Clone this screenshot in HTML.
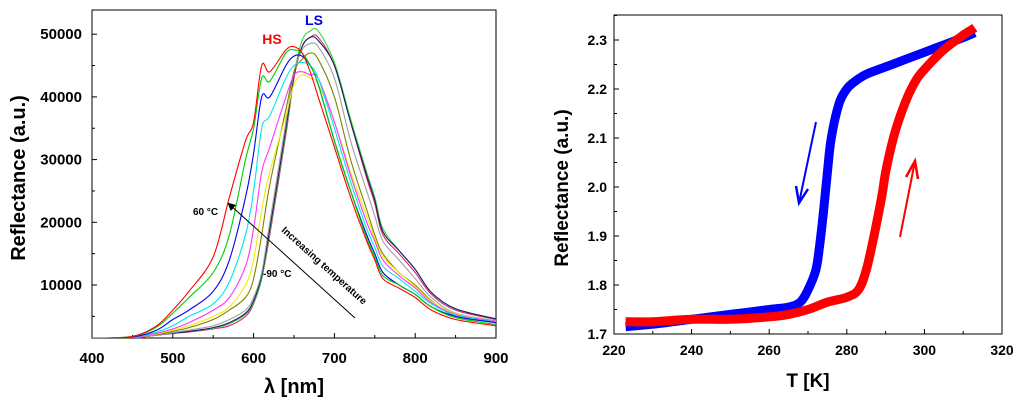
<!DOCTYPE html>
<html><head><meta charset="utf-8"><style>
body{margin:0;background:#fff;}
svg{display:block;font-family:"Liberation Sans",Arial,sans-serif;font-weight:bold;}
</style></head><body>
<svg id="s" width="1024" height="409" viewBox="0 0 1024 409">
<defs>
<marker id="ah" markerWidth="8" markerHeight="8" refX="6" refY="4" orient="auto"><path d="M0,0 L8,4 L0,8 z" fill="#000"/></marker>
</defs>
<g id="L"></g>
<g id="R"></g>
</svg>
<script>
// ---- Left chart data (reflectance in thousands) ----
const wl = [400,450,480,500,520,550,570,590,600,610,620,640,650,660,670,680,700,720,740,750,760,780,800,820,850,900];
const specRed     = [1.5,1.8,3.5,6,9,14.5,24,33,36,45,44,47.5,48,47,44,40,32,24,17,14,11,9.5,8,6,4.5,3.5];
const specGreen   = [1.5,1.8,3.3,5.5,8,12,18,30,35,43,42.5,47,47.5,47,45,42,33,25,17.5,14.5,11.5,10,8.5,6.5,4.8,3.7];
const specBlue    = [1.5,1.7,2.8,4.5,6,9,14,24,31,40,40,45,46.5,46.5,45,42,33,25,18,15,12,10,8.5,6.5,5,4];
const specCyan    = [1.5,1.7,2.5,3.5,5,7,10.5,18,25,35,37,43,45,45.5,45,43,35,26.5,19,16,13,11,9,7,5.2,4.1];
const specMagenta = [1.5,1.6,2.3,3,4,6,8,13,19,28,32,40,43.5,44,43.5,43,36,27.5,20,17,14,11.5,9.5,7.2,5.3,4.2];
const specYellow  = [1.5,1.6,2.2,2.8,3.5,5,6.5,10,14,22,28,37,42,43.5,43,42,36,28,21,17.5,14.5,12,9.8,7.4,5.4,4.2];
const specOlive   = [1.5,1.6,2.1,2.6,3.2,4.5,6,8,11,18,26,38,44,46,47,46,40,30,22,18,15,12,10,7.5,5,4];
const specGray    = [1.5,1.6,2,2.4,2.8,3.5,4.5,6,8,12,20,36,44,47.5,48.5,48,43,33,25,21,17,14,11,8,5.5,4.3];
const specNavy    = [1.5,1.6,2,2.3,2.6,3.2,4,5.5,7.5,11.5,19,35,43.5,48,49.5,49,45,36,27.5,23.5,18.5,15.5,12.5,8.8,6.2,4.6];
const specLime    = [1.5,1.6,2,2.3,2.6,3.1,3.8,5.3,7.2,11,18.5,34.5,43.5,49,50.5,50.5,45.5,36.5,28,24,19,15.5,12.5,8.8,6.2,4.6];
const specPink    = [1.5,1.6,2,2.3,2.5,3,3.5,5,7,11,18,34,43,48,49.5,49.5,45,36,27,23,18,15,12,8.5,6,4.5];
const specColors = ["#ff0000","#00cc00","#0000ee","#00e5ee","#ff33ff","#eeee00","#808000","#a0a0a0","#1a1a6e","#33dd33","#e0207a"];
const specSeries = [specRed,specGreen,specBlue,specCyan,specMagenta,specYellow,specOlive,specGray,specNavy,specLime,specPink];
const specNames = ["60C","t2","t3","t4","t5","t6","t7","t8","t9","t10","-90C"];
const lxTicks = [400,500,600,700,800,900];
const lyTicks = [10000,20000,30000,40000,50000];

// ---- Right chart data ----
const coolT = [313,310,305,300,295,290,285,282,280,278,276,275,274,273,272,270,268,265,260,250,240,230,223];
const coolR = [2.315,2.305,2.29,2.275,2.26,2.245,2.23,2.215,2.2,2.17,2.1,2.03,1.95,1.88,1.83,1.79,1.765,1.755,1.75,1.74,1.73,1.72,1.715];
const heatT = [223,230,240,250,260,265,270,275,280,283,285,287,289,290,292,294,296,298,300,305,310,313];
const heatR = [1.725,1.725,1.73,1.73,1.735,1.74,1.75,1.765,1.775,1.79,1.83,1.9,1.98,2.03,2.1,2.15,2.19,2.22,2.24,2.28,2.31,2.325];
const rxTicks = [220,240,260,280,300,320];
const ryTicks = [1.7,1.8,1.9,2.0,2.1,2.2,2.3];

const NS="http://www.w3.org/2000/svg";
function mk(p,tag,at,txt){const e=document.createElementNS(NS,tag);for(const k in at)e.setAttribute(k,at[k]);if(txt!==undefined)e.textContent=txt;p.appendChild(e);return e;}
function smooth(P){let d='M'+P[0][0].toFixed(1)+','+P[0][1].toFixed(1);
  for(let i=0;i<P.length-1;i++){const p0=P[Math.max(i-1,0)],p1=P[i],p2=P[i+1],p3=P[Math.min(i+2,P.length-1)];
    const c1=[p1[0]+(p2[0]-p0[0])/6,p1[1]+(p2[1]-p0[1])/6],c2=[p2[0]-(p3[0]-p1[0])/6,p2[1]-(p3[1]-p1[1])/6];
    d+=' C'+c1[0].toFixed(1)+','+c1[1].toFixed(1)+' '+c2[0].toFixed(1)+','+c2[1].toFixed(1)+' '+p2[0].toFixed(1)+','+p2[1].toFixed(1);}
  return d;}

// Left axes
const L=document.getElementById('L');
const lx0=92,lx1=496,ly0=10,ly1=338;
const lX=v=>lx0+(v-400)/500*(lx1-lx0);
const lY=v=>285-(v-10000)/10000*62.7;
let e;
e=mk(L,'rect',{x:lx0,y:ly0,width:lx1-lx0,height:ly1-ly0,fill:'none',stroke:'#000','stroke-width':1});

for(let v=400;v<=900;v+=50){const big=v%100===0;const t=mk(L,'line',{x1:lX(v),x2:lX(v),y1:ly1,y2:ly1-(big?5:3),stroke:'#000'});}
for(let v=5000;v<=50000;v+=5000){const big=v%10000===0;const t=mk(L,'line',{x1:lx0,x2:lx0+(big?5:3),y1:lY(v),y2:lY(v),stroke:'#000'});}
lxTicks.forEach(v=>{const t=mk(L,'text',{x:lX(v),y:363,'text-anchor':'middle','font-size':15},String(v));});
lyTicks.forEach(v=>{const t=mk(L,'text',{x:82,y:lY(v)+5,'text-anchor':'end','font-size':15},String(v));});
e=mk(L,'text',{x:25,y:178,'text-anchor':'middle','font-size':20,transform:'rotate(-90 25 178)'},'Reflectance (a.u.)');

e=mk(L,'text',{x:294,y:393,'text-anchor':'middle','font-size':20},'λ [nm]');

const cl=mk(L,'clipPath',{id:'lc'});mk(cl,'rect',{x:lx0,y:ly0,width:lx1-lx0,height:ly1-ly0});
const lg=mk(L,'g',{'clip-path':'url(#lc)'});
for(let s=specSeries.length-1;s>=0;s--){
  const P=wl.map((w,i)=>[lX(w),lY(specSeries[s][i]*1000)]);
  const p=mk(lg,'path',{d:smooth(P),fill:'none',stroke:specColors[s],'stroke-width':1.1});
  
  
}
e=mk(L,'text',{x:272,y:44,'text-anchor':'middle','font-size':14,fill:'#ff0000'},'HS');

e=mk(L,'text',{x:314,y:25,'text-anchor':'middle','font-size':14,fill:'#0000ee'},'LS');

e=mk(L,'text',{x:193,y:215,'font-size':10},'60 °C');

e=mk(L,'text',{x:263,y:277,'font-size':10},'-90 °C');

e=mk(L,'line',{x1:355,y1:318,x2:229,y2:204,stroke:'#000','stroke-width':1,'marker-end':'url(#ah)'});

e=mk(L,'text',{x:322,y:268,'text-anchor':'middle','font-size':10,transform:'rotate(42 322 268)'},'Increasing temperature');


// Right axes
const R=document.getElementById('R');
const rx0=614,rx1=1002,ry0=15,ry1=334;
const rX=v=>rx0+(v-220)/100*(rx1-rx0);
const rY=v=>334-(v-1.7)/0.1*49;
e=mk(R,'rect',{x:rx0,y:ry0,width:rx1-rx0,height:ry1-ry0,fill:'none',stroke:'#000','stroke-width':1});

for(let v=220;v<=320;v+=10){const big=v%20===0;const t=mk(R,'line',{x1:rX(v),x2:rX(v),y1:ry1,y2:ry1-(big?5:3),stroke:'#000'});}
for(let k=0;k<=13;k++){const v=1.7+k*0.05;const t=mk(R,'line',{x1:rx0,x2:rx0+(k%2===0?5:3),y1:rY(v),y2:rY(v),stroke:'#000'});}
rxTicks.forEach(v=>{const t=mk(R,'text',{x:rX(v),y:355,'text-anchor':'middle','font-size':14},String(v));});
ryTicks.forEach(v=>{const t=mk(R,'text',{x:607,y:rY(v)+5,'text-anchor':'end','font-size':14},v.toFixed(1));});
e=mk(R,'text',{x:568,y:188,'text-anchor':'middle','font-size':19,transform:'rotate(-90 568 188)'},'Reflectance (a.u.)');

e=mk(R,'text',{x:808,y:387,'text-anchor':'middle','font-size':19},'T [K]');

e=mk(R,'path',{d:smooth(coolT.map((t,i)=>[rX(t),rY(coolR[i])])),fill:'none',stroke:'#0000ff','stroke-width':9,'stroke-linejoin':'round'});

e=mk(R,'path',{d:smooth(heatT.map((t,i)=>[rX(t),rY(heatR[i])])),fill:'none',stroke:'#ff0000','stroke-width':9,'stroke-linejoin':'round'});

e=mk(R,'line',{x1:816,y1:122,x2:799,y2:203,stroke:'#0000ff','stroke-width':2});

e=mk(R,'polyline',{points:'796,186 799,203 808,189',fill:'none',stroke:'#0000ff','stroke-width':2.5});

e=mk(R,'line',{x1:900,y1:237,x2:915,y2:161,stroke:'#ff0000','stroke-width':2});

e=mk(R,'polyline',{points:'906,177 915,161 918,179',fill:'none',stroke:'#ff0000','stroke-width':2.5});

</script>
</body></html>
